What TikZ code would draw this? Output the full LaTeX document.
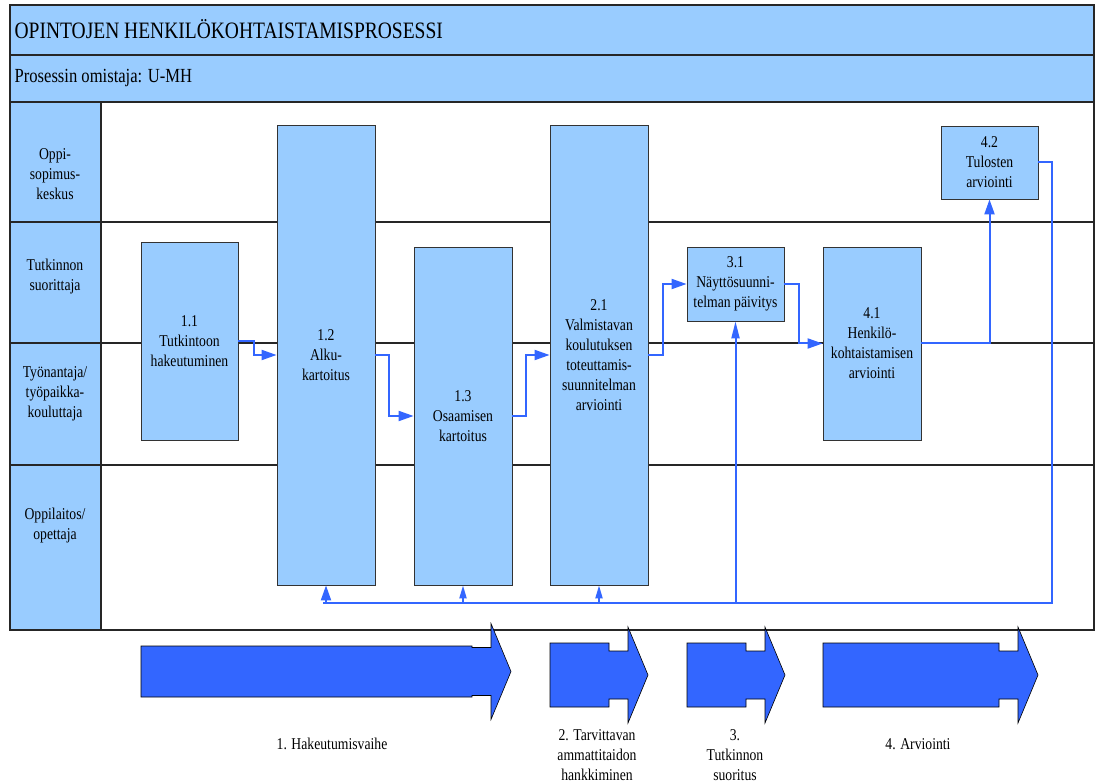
\documentclass[tikz,border=0pt]{standalone}
\usepackage{fontspec}
\setmainfont[FakeStretch=0.83]{Liberation Serif}
\usetikzlibrary{arrows.meta}
\definecolor{lightblue}{HTML}{99CCFF}
\definecolor{arrowblue}{HTML}{3366FF}
\newcommand{\txt}{\rmfamily\fontsize{16.5}{20}\selectfont}

\begin{document}
\begin{tikzpicture}[x=1pt, y=-1pt,
    every node/.style={inner sep=0.5mm, align=center, font=\txt},
    box/.style={draw=black!80, fill=lightblue, line width=0.8pt},
    lane/.style={draw=black!85, line width=1.2pt},
    conn/.style={draw=arrowblue, line width=2pt, -{Triangle[length=15pt,width=10pt]}},
    thin tip/.style={-{Triangle[length=13pt,width=7pt]}},
    phase/.style={fill=arrowblue, draw=black, line width=0.6pt}]
    \useasboundingbox (0,0) rectangle (1095,783);

    % header bands and lanes
    \fill[lightblue] (10,5) rectangle (1094,102);
    \fill[lightblue] (10,102) rectangle (101,630);
    \draw[lane] (10,5) rectangle (1094,630);
    \draw[lane] (10,55) -- (1094,55);
    \draw[lane] (10,102) -- (1094,102);
    \draw[lane] (101,102) -- (101,630);
    \foreach \y in {222,343,465}
        \draw[lane] (10,\y) -- (1094,\y);

    \node[anchor=west, font=\rmfamily\fontsize{23.5}{28}\selectfont] (title) at (13,29) {OPINTOJEN HENKILÖKOHTAISTAMISPROSESSI};
    \node[anchor=west, font=\rmfamily\fontsize{20}{24}\selectfont] (owner) at (13,78) {Prosessin omistaja: U-MH};

    \node (l1) at (55,174) {Oppi-\\sopimus-\\keskus};
    \node (l2) at (55,277) {Tutkinnon\\suorittaja};
    \node (l3) at (55,394) {Työnantaja/\\työpaikka-\\kouluttaja};
    \node (l4) at (55,526) {Oppilaitos/\\opettaja};

    % process steps
    \node[box, minimum width=97pt, minimum height=198pt] (h11) at (189.5,341) {1.1\\Tutkintoon\\hakeutuminen};
    \node[box, minimum width=98pt, minimum height=460pt] (h12) at (326,355) {1.2\\Alku-\\kartoitus};
    \node[box, minimum width=98pt, minimum height=338pt] (h13) at (463,416) {1.3\\Osaamisen\\kartoitus};
    \node[box, minimum width=98pt, minimum height=460pt] (h21) at (599,355) {2.1\\Valmistavan\\koulutuksen\\toteuttamis-\\suunnitelman\\arviointi};
    \node[box, minimum width=97pt, minimum height=74pt] (h31) at (735.5,284) {3.1\\Näyttösuunni-\\telman päivitys};
    \node[box, minimum width=98pt, minimum height=193pt] (h41) at (872,343.5) {4.1\\Henkilö-\\kohtaistamisen\\arviointi};
    \node[box, minimum width=97pt, minimum height=73pt] (h42) at (989.5,162.5) {4.2\\Tulosten\\arviointi};

    \coordinate (fr) at (1052,603);
    \coordinate (fl) at (323,603);

    \draw[conn] (h11.east) -- ++(16,0) |- (h12.west);
    \draw[conn] (h12.east) -- ++(14,0) |- (h13.west);
    \draw[conn] (h13.east) -- ++(14,0) |- (h21.west);
    \draw[conn] (h21.east) -- ++(15,0) |- (h31.west);
    \draw[conn] (h31.east) -- ++(15,0) |- (h41.west);
    \draw[conn] (h41.east) -| (h42.south);
    \draw[conn, -] (h42.east) -| (fr) -- (fl);
    \draw[conn] (fl -| h12.south) -- (h12.south);
    \draw[conn, thin tip] (fl -| h13.south) -- (h13.south);
    \draw[conn, thin tip] (fl -| h21.south) -- (h21.south);
    \draw[conn, -{Triangle[length=17pt,width=8pt]}] (fl -| h31.south) -- (h31.south);

    % phase arrows
    \foreach \l/\t/\c/\h in {141/511/671.5/25.5, 550/648/675/32, 687/785/675/32, 823/1038/675/32}
        \draw[phase] (\l,\c-\h) -- (\t-39,\c-\h) -- (\t-39,\c-24) -- (\t-20,\c-24)
            -- (\t-20,\c-48) -- (\t,\c) -- (\t-20,\c+48) -- (\t-20,\c+24)
            -- (\t-39,\c+24) -- (\t-39,\c+\h) -- (\l,\c+\h) -- cycle;

    \node (p1) at (332,744) {1. Hakeutumisvaihe};
    \node (p2) at (597,755) {2. Tarvittavan\\ammattitaidon\\hankkiminen};
    \node (p3) at (735,755) {3.\\Tutkinnon\\suoritus};
    \node (p4) at (918,744) {4. Arviointi};
\end{tikzpicture}
\end{document}
